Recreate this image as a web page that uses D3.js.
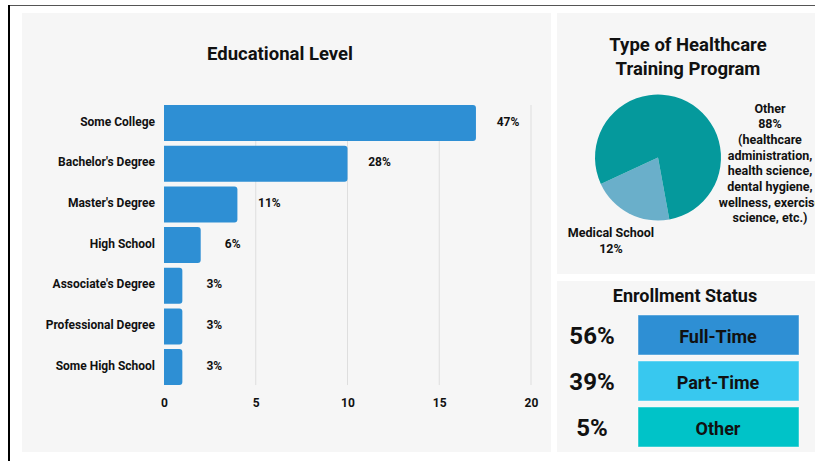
<!DOCTYPE html>
<html><head><meta charset="utf-8">
<script src="https://cdn.jsdelivr.net/npm/d3@7"></script>
<style>
body{margin:0;background:#fff;overflow:hidden;}
text{font-family:Roboto,"Open Sans",sans-serif;font-weight:700;fill:#111;}
</style>
</head><body>
<svg id="c" width="815" height="461"></svg>
<script>
// ---------- data ----------
const eduCategories = ["Some College","Bachelor's Degree","Master's Degree","High School","Associate's Degree","Professional Degree","Some High School"];
const eduCounts = [17,10,4,2,1,1,1];
const eduPercentLabels = ["47%","28%","11%","6%","3%","3%","3%"];
const eduTicks = [0,5,10,15,20];

const programCategories = ["Medical School","Other"];
const programValues = [21,79];           // slice sizes as drawn in the reference
const programPercentLabels = ["12%","88%"];
const otherDetailLines = ["(healthcare","administration,","health science,","dental hygiene,","wellness, exercise","science, etc.)"];

const enrollCategories = ["Full-Time","Part-Time","Other"];
const enrollPercentLabels = ["56%","39%","5%"];

// ---------- styles ----------
const panelFill = "#f6f6f6";
const barColor = "#2e8fd4";
const pieColors = ["#6aafca","#05999c"];
const enrollColors = ["#2e8fd4","#38c8ef","#00c3c8"];

const svg = d3.select("#c");

// frame lines
svg.append("line").attr("x1",8).attr("x2",815).attr("y1",5.5).attr("y2",5.5).attr("stroke","#555").attr("stroke-width",1);
svg.append("line").attr("x1",9).attr("x2",9).attr("y1",5).attr("y2",461).attr("stroke","#000").attr("stroke-width",2);

// panels
svg.append("rect").attr("x",22).attr("y",13).attr("width",529).attr("height",439).attr("fill",panelFill);
svg.append("rect").attr("x",557).attr("y",13).attr("width",258).attr("height",261).attr("fill",panelFill);
svg.append("rect").attr("x",557).attr("y",281).attr("width",258).attr("height",171).attr("fill",panelFill);

// ---------- bar chart ----------
const x = d3.scaleLinear().domain([0,20]).range([164,531]);
const y = d3.scaleBand().domain(eduCategories).range([102.7,387.4]).paddingInner(0.115).paddingOuter(0.0575);

svg.append("text").attr("x",280).attr("y",54).attr("text-anchor","middle").attr("dominant-baseline","central")
  .style("font-size","18.5px").text("Educational Level");

const gridTop = y(eduCategories[0]);
const gridBot = y(eduCategories[eduCategories.length-1]) + y.bandwidth();
svg.append("g").selectAll("line").data(eduTicks.filter(t=>t>0)).join("line")
  .attr("x1",d=>x(d)).attr("x2",d=>x(d)).attr("y1",gridTop).attr("y2",gridBot)
  .attr("stroke","#dedede").attr("stroke-width",1);

const r = 3;
svg.append("g").selectAll("path").data(eduCategories).join("path")
  .attr("fill",barColor)
  .attr("d",(c,i)=>{
    const x0=x(0), x1=x(eduCounts[i]), y0=y(c), y1=y(c)+y.bandwidth();
    return `M${x0},${y0}H${x1-r}Q${x1},${y0} ${x1},${y0+r}V${y1-r}Q${x1},${y1} ${x1-r},${y1}H${x0}Z`;
  });

svg.append("g").selectAll("text").data(eduCategories).join("text")
  .attr("x",155).attr("y",c=>y(c)+y.bandwidth()/2-1.5).attr("text-anchor","end").attr("dominant-baseline","central")
  .style("font-size","12px").text(c=>c);

svg.append("g").selectAll("text").data(eduCategories).join("text")
  .attr("x",(c,i)=>x(eduCounts[i])+32).attr("y",c=>y(c)+y.bandwidth()/2-1.5).attr("text-anchor","middle").attr("dominant-baseline","central")
  .style("font-size","12px").text((c,i)=>eduPercentLabels[i]);

const xAxis = svg.append("g").attr("transform",`translate(0,${gridBot})`)
  .call(d3.axisBottom(x).tickValues(eduTicks).tickSize(0).tickPadding(13));
xAxis.select(".domain").remove();
xAxis.selectAll("text").style("font-size","12px").style("font-family","Roboto,sans-serif").style("font-weight","700").attr("fill","#111");

// ---------- pie ----------
svg.append("text").attr("text-anchor","middle").style("font-size","18.5px")
  .selectAll("tspan").data(["Type of Healthcare","Training Program"]).join("tspan")
  .attr("x",688).attr("y",(d,i)=>50.5+i*24).text(d=>d);

const cx = 658, cy = 157.5, R = 63;
const start = 169.6*Math.PI/180;
const pie = d3.pie().sort(null).startAngle(start).endAngle(start+2*Math.PI);
const arc = d3.arc().innerRadius(0).outerRadius(R);
svg.append("g").attr("transform",`translate(${cx},${cy})`)
  .selectAll("path").data(pie(programValues)).join("path")
  .attr("d",arc).attr("fill",(d,i)=>pieColors[i]);

// Medical School label
svg.append("text").attr("text-anchor","middle").style("font-size","12.5px")
  .selectAll("tspan").data([programCategories[0],programPercentLabels[0]]).join("tspan")
  .attr("x",611).attr("y",(d,i)=>236.5+i*16).text(d=>d);
// Other label
svg.append("text").attr("text-anchor","middle").style("font-size","12.5px")
  .selectAll("tspan").data([programCategories[1],programPercentLabels[1]].concat(otherDetailLines)).join("tspan")
  .attr("x",770).attr("y",(d,i)=>112.5+i*15.7).text(d=>d);

// ---------- enrollment ----------
svg.append("text").attr("x",685).attr("y",295).attr("text-anchor","middle").attr("dominant-baseline","central")
  .style("font-size","18px").text("Enrollment Status");

const ey = d3.scaleBand().domain(enrollCategories).range([312,450]).paddingInner(0.1304).paddingOuter(0.0652);
svg.append("g").selectAll("rect").data(enrollCategories).join("rect")
  .attr("x",638).attr("y",c=>ey(c)).attr("width",161).attr("height",ey.bandwidth())
  .attr("fill",(c,i)=>enrollColors[i]).attr("stroke","rgba(255,255,255,0.45)").attr("stroke-width",1);
svg.append("g").selectAll("text").data(enrollCategories).join("text")
  .attr("x",718).attr("y",c=>ey(c)+ey.bandwidth()/2+1).attr("text-anchor","middle").attr("dominant-baseline","central")
  .style("font-size","18px").text(c=>c);
svg.append("g").selectAll("text").data(enrollCategories).join("text")
  .attr("x",592).attr("y",c=>ey(c)+ey.bandwidth()/2+1).attr("text-anchor","middle").attr("dominant-baseline","central")
  .style("font-size","24px").text((c,i)=>enrollPercentLabels[i]);
</script>
</body></html>
